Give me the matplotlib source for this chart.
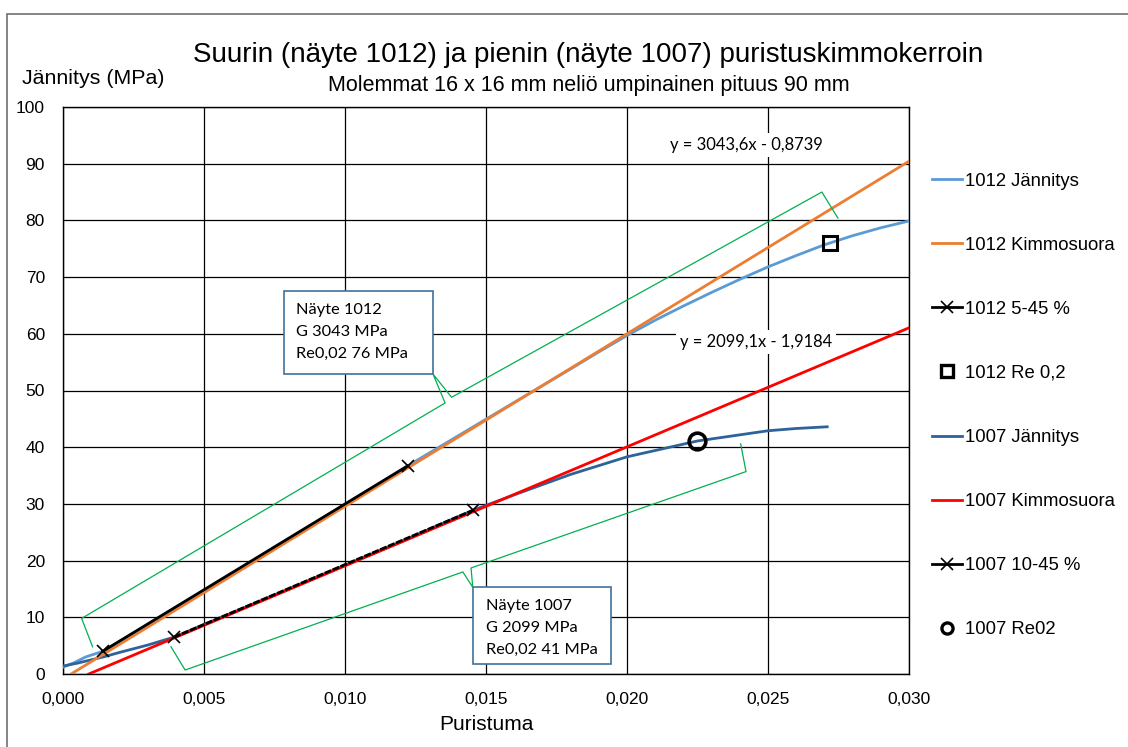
import matplotlib
matplotlib.use("Agg")
import matplotlib.pyplot as plt
from matplotlib.lines import Line2D
from matplotlib.patches import Rectangle
from matplotlib.ticker import FuncFormatter, MultipleLocator

plt.rcParams["font.family"] = ["Liberation Sans", "DejaVu Sans"]

# 1012: measured stress-strain curve
strain_1012 = [0.0, 0.0004, 0.0008, 0.00141, 0.004, 0.008, 0.01222, 0.016, 0.018, 0.019,
               0.020, 0.021, 0.022, 0.023, 0.024, 0.025, 0.026, 0.027, 0.028, 0.029, 0.030]
stress_1012 = [1.2, 2.0, 3.0, 4.0, 11.7, 23.8, 36.7, 47.9, 53.8, 56.8,
               59.7, 62.4, 64.9, 67.3, 69.6, 71.8, 73.8, 75.7, 77.3, 78.7, 79.9]
# 1012: 5-45 % range used for the fit
range_1012_x = [0.00141, 0.01222]
range_1012_y = [4.0, 36.7]
re_1012 = (0.0272, 76.0)
slope_1012, icept_1012 = 3043.6, -0.8739

# 1007: measured stress-strain curve
strain_1007 = [0.0, 0.0005, 0.001, 0.0015, 0.002, 0.003, 0.00394, 0.006, 0.008,
               0.010, 0.012, 0.01455, 0.016, 0.018, 0.020, 0.0225, 0.025, 0.026, 0.0271]
stress_1007 = [1.4, 1.9, 2.5, 3.1, 3.8, 5.1, 6.5, 10.8, 15.0,
               19.2, 23.4, 28.9, 31.6, 35.2, 38.3, 41.1, 42.9, 43.3, 43.6]
# 1007: 10-45 % range used for the fit
range_1007_x = [0.00394, 0.01455]
range_1007_y = [6.5, 28.9]
re_1007 = (0.02247, 41.1)
slope_1007, icept_1007 = 2099.1, -1.9184

legend_labels = ["1012 Jännitys", "1012 Kimmosuora", "1012 5-45 %", "1012 Re 0,2",
                 "1007 Jännitys", "1007 Kimmosuora", "1007 10-45 %", "1007 Re02"]

C_LIGHT = "#5B9BD5"
C_ORANGE = "#ED7D31"
C_DARK = "#2E6399"
C_RED = "#FF0000"
C_GREEN = "#00B050"
C_BOX = "#41719C"

W, H = 1128, 747
fig = plt.figure(figsize=(W / 100, H / 100), dpi=100)

# outer chart border (runs off the right and bottom edges)
fig.patches.append(Rectangle((7 / W, -0.1), 1.2, 1.1 - 14 / H, transform=fig.transFigure,
                             fill=False, edgecolor="#6f6f6f", linewidth=1.2))

ax = fig.add_axes([63 / W, 1 - 674 / H, 846 / W, 567 / H])
ax.set_xlim(0, 0.030)
ax.set_ylim(0, 100)
ax.xaxis.set_major_locator(MultipleLocator(0.005))
ax.yaxis.set_major_locator(MultipleLocator(10))
ax.xaxis.set_major_formatter(FuncFormatter(lambda v, p: f"{v:.3f}".replace(".", ",")))
ax.yaxis.set_major_formatter(FuncFormatter(lambda v, p: f"{v:.0f}"))
ax.grid(True, color="black", linewidth=0.9)
ax.set_axisbelow(True)
for sp in ax.spines.values():
    sp.set_color("black")
    sp.set_linewidth(1.0)
ax.tick_params(length=0, labelsize=12.5, colors="black")
ax.tick_params(axis="x", pad=13)
ax.tick_params(axis="y", pad=13)

# fitted lines, drawn from where they cross zero up to the right edge
x0_1012 = -icept_1012 / slope_1012
x0_1007 = -icept_1007 / slope_1007
xs_1012 = [x0_1012, 0.030]
xs_1007 = [x0_1007, 0.030]

lw = 2.0
ax.plot(strain_1012, stress_1012, color=C_LIGHT, lw=lw, zorder=3)
ax.plot(xs_1012, [slope_1012 * x + icept_1012 for x in xs_1012], color=C_ORANGE, lw=lw, zorder=4)
ax.plot(range_1012_x, range_1012_y, color="black", lw=lw, marker="x", ms=9, mew=1.2, zorder=5)
ax.plot(strain_1007, stress_1007, color=C_DARK, lw=lw, zorder=3)
ax.plot(xs_1007, [slope_1007 * x + icept_1007 for x in xs_1007], color=C_RED, lw=lw, zorder=4)
ax.plot(range_1007_x, range_1007_y, color="black", lw=lw, ls=(0, (2.5, 0.6)), zorder=5)
ax.plot(range_1007_x, range_1007_y, ls="none", marker="x", ms=9, mew=1.2, color="black", zorder=6)
ax.plot(*re_1012, ls="none", marker="s", ms=10, mfc="none", mec="black", mew=2.2, zorder=7)
ax.plot(*re_1007, ls="none", marker="o", ms=12, mfc="none", mec="black", mew=2.6, zorder=7)

# trendline equations
eq_font = dict(family=["Lato", "DejaVu Sans"], fontsize=11.9, ha="center", va="center", zorder=8,
               bbox=dict(boxstyle="square,pad=0.25", facecolor="white", edgecolor="none"))
ax.text(0.02422, 93.3, "y = 3043,6x - 0,8739", **eq_font)
ax.text(0.02457, 58.6, "y = 2099,1x - 1,9184", **eq_font)

# brace callouts pointing from the curves to the info boxes
brace_1012_x = [0.00105, 0.00066, 0.01355, 0.01312, 0.01378, 0.02691, 0.02748]
brace_1012_y = [4.8, 9.8, 47.8, 52.9, 48.8, 85.0, 80.4]
brace_1007_x = [0.00383, 0.00433, 0.01418, 0.01453, 0.01447, 0.02422, 0.02403]
brace_1007_y = [4.8, 0.7, 18.0, 15.3, 18.7, 35.7, 40.6]
ax.plot(brace_1012_x, brace_1012_y, color=C_GREEN, lw=0.9, zorder=6)
ax.plot(brace_1007_x, brace_1007_y, color=C_GREEN, lw=0.9, zorder=6)

box_font = dict(family=["Lato", "DejaVu Sans"], fontsize=11.8, ha="left", va="center",
                linespacing=1.72, zorder=9)
ax.add_patch(Rectangle((0.00784, 52.9), 0.00528, 14.6, facecolor="white",
                       edgecolor=C_BOX, lw=1.2, zorder=8))
ax.text(0.00826, 60.3, "Näyte 1012\nG 3043 MPa\nRe0,02 76 MPa", **box_font)
ax.add_patch(Rectangle((0.01455, 1.76), 0.00488, 13.5, facecolor="white",
                       edgecolor=C_BOX, lw=1.2, zorder=8))
ax.text(0.01500, 8.06, "Näyte 1007\nG 2099 MPa\nRe0,02 41 MPa", **box_font)

# titles and axis titles
fig.text(588 / W, 1 - 55 / H, "Suurin (näyte 1012) ja pienin (näyte 1007) puristuskimmokerroin",
         ha="center", va="center", fontsize=20)
fig.text(589 / W, 1 - 85 / H, "Molemmat 16 x 16 mm neliö umpinainen pituus 90 mm",
         ha="center", va="center", fontsize=15.5)
fig.text(22 / W, 1 - 79 / H, "Jännitys (MPa)", ha="left", va="center", fontsize=15.4)
ax.set_xlabel("Puristuma", fontsize=15, labelpad=6)

handles = [
    Line2D([], [], color=C_LIGHT, lw=lw),
    Line2D([], [], color=C_ORANGE, lw=lw),
    Line2D([], [], color="black", lw=lw, marker="x", ms=9, mew=1.2),
    Line2D([], [], ls="none", marker="s", ms=8.5, mfc="none", mec="black", mew=2.4),
    Line2D([], [], color=C_DARK, lw=lw),
    Line2D([], [], color=C_RED, lw=lw),
    Line2D([], [], color="black", lw=lw, marker="x", ms=9, mew=1.2),
    Line2D([], [], ls="none", marker="o", ms=8, mfc="none", mec="black", mew=2.4),
]
fig.legend(handles, legend_labels, loc="center left", bbox_to_anchor=(932 / W, 1 - 405.5 / H),
           frameon=False, fontsize=13.3, labelspacing=2.55, handlelength=1.65,
           handletextpad=0.15, borderpad=0, borderaxespad=0)

fig.savefig("out.png", dpi=100)
